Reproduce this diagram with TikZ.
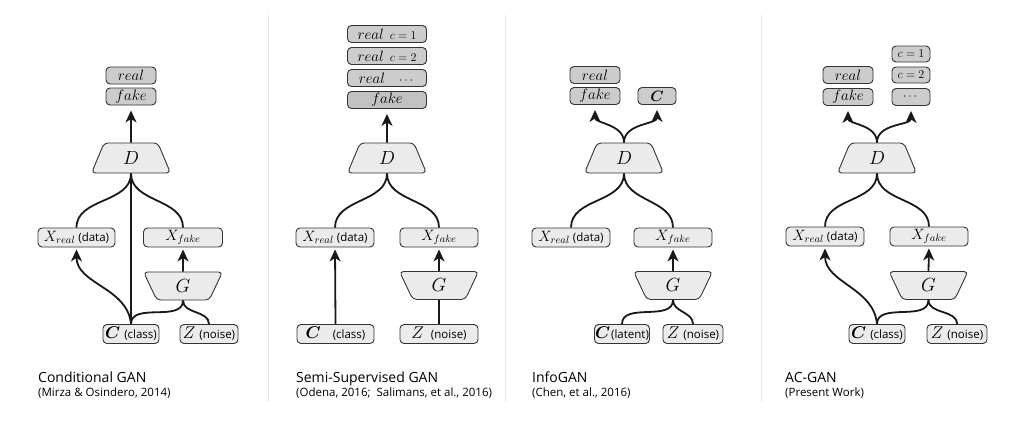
\RequirePackage{fix-cm}
\documentclass[tikz,border=0pt]{standalone}
\usepackage{amsmath}
\usepackage{fontspec}
\setsansfont{Open Sans}
\usetikzlibrary{arrows.meta,shapes.geometric}
\newcommand{\smallsf}[1]{{\sffamily\fontsize{11.5}{13}\selectfont #1}}
\tikzset{
	blk/.style={draw=black!80, fill=black!8, rounded corners=4pt, line width=0.9pt, inner sep=0pt, minimum height=19pt, font=\fontsize{15}{17}\selectfont},
	outblk/.style={blk, fill=black!20, minimum height=17pt},
	inblk/.style={blk, font=\fontsize{17}{19}\selectfont},
	net/.style={trapezium, trapezium stretches=true, draw=black!80, fill=black!8, rounded corners=4pt, line width=0.9pt, inner sep=0pt, minimum width=79pt, minimum height=30pt, font=\fontsize{19}{21}\selectfont},
	dnet/.style={net, trapezium left angle=74, trapezium right angle=74},
	gnet/.style={net, trapezium left angle=106, trapezium right angle=106, minimum height=28pt},
	wire/.style={line width=1.8pt, draw=black!90},
	feed/.style={wire, -{Stealth[length=12pt,width=11pt,inset=3.5pt,fill=black!90]}, shorten >=2pt},
	readout/.style={feed, shorten >=5pt},
	divider/.style={draw=black!10, line width=1pt},
	title/.style={anchor=base west, inner sep=0pt, font=\sffamily\fontsize{14}{16}\selectfont},
	cite/.style={anchor=base west, inner sep=0pt, font=\sffamily\fontsize{11.5}{13}\selectfont},
}

\begin{document}
\begin{tikzpicture}[x=1pt, y=-1pt]
	\useasboundingbox (0,0) rectangle (1024,423);
	
	%%%%% DIVIDERS %%%%%
	\draw[divider] (268.5,15) -- (268.5,402);
	\draw[divider] (505.5,15) -- (505.5,402);
	\draw[divider] (761,15) -- (761,402);
	
	%%%%% CONDITIONAL GAN %%%%%
	\node[outblk, minimum width=50pt] (real1) at (131,75.5) {$real$};
	\node[outblk, minimum width=50pt] (fake1) at (131,96.5) {$fake$};
	\node[dnet] (D1) at (131,158) {$D$};
	\node[blk, minimum width=77pt] (Xr1) at (76.5,237.5) {$X_{real}$\hspace{3pt}\smallsf{(data)}};
	\node[blk, minimum width=79pt] (Xf1) at (183,237.5) {$X_{fake}$};
	\node[gnet] (G1) at (183,286) {$G$};
	\node[inblk, minimum width=56pt] (C1) at (131,334) {$\boldsymbol{C}$\hspace{4pt}\smallsf{(class)}};
	\node[inblk, minimum width=58pt] (Z1) at (209,334) {$Z$\hspace{4pt}\smallsf{(noise)}};
	
	\draw[readout] (D1.north) -- (fake1.south);
	\draw[wire] (D1.south) to[out=-90,in=90] (Xr1.north);
	\draw[wire] (D1.south) -- (C1.north);
	\draw[wire] (D1.south) to[out=-90,in=90] (Xf1.north);
	\draw[feed] (C1.north) to[out=95,in=-90] (Xr1.south);
	\draw[wire] (C1.north) to[out=90,in=-90] (G1.south);
	\draw[wire] (Z1.north) to[out=90,in=-90] (G1.south);
	\draw[feed] (G1.north) -- (Xf1.south);
	
	\node[title] (t1) at (38,382) {Conditional GAN};
	\node[cite] (s1) at (38,396) {(Mirza \& Osindero, 2014)};
	
	%%%%% SEMI-SUPERVISED GAN %%%%%
	\node[outblk, minimum width=79pt] (realA2) at (387,34) {$real$\hspace{6pt}{\fontsize{12}{13}\selectfont$c=1$}};
	\node[outblk, minimum width=79pt] (realB2) at (387,56) {$real$\hspace{6pt}{\fontsize{12}{13}\selectfont$c=2$}};
	\node[outblk, minimum width=79pt] (realC2) at (387,78) {$real$\hspace{14pt}{\fontsize{12}{13}\selectfont$\cdots$}\hspace{6pt}};
	\node[outblk, minimum width=79pt, fill=black!24] (fake2) at (387,100) {$fake$};
	\node[dnet] (D2) at (387,158) {$D$};
	\node[blk, minimum width=78pt] (Xr2) at (335,237.5) {$X_{real}$\hspace{3pt}\smallsf{(data)}};
	\node[blk, minimum width=78pt] (Xf2) at (439,237.5) {$X_{fake}$};
	\node[gnet] (G2) at (439,285.5) {$G$};
	\node[inblk, minimum width=77pt] (C2) at (335.5,334) {$\boldsymbol{C}$\hspace{12pt}\smallsf{(class)}};
	\node[inblk, minimum width=78pt] (Z2) at (439,334) {$Z$\hspace{7pt}\smallsf{(noise)}};
	
	\draw[readout] (D2.north) -- (fake2.south);
	\draw[wire] (D2.south) to[out=-90,in=90] (Xr2.north);
	\draw[wire] (D2.south) to[out=-90,in=90] (Xf2.north);
	\draw[feed] (C2.north) -- (Xr2.south);
	\draw[wire] (Z2.north) -- (G2.south);
	\draw[feed] (G2.north) -- (Xf2.south);
	
	\node[title] (t2) at (296,382) {Semi-Supervised GAN};
	\node[cite] (s2) at (296,396) {(Odena, 2016;\ \ Salimans, et al., 2016)};
	
	%%%%% INFOGAN %%%%%
	\node[outblk, minimum width=50pt] (real3) at (595,75) {$real$};
	\node[outblk, minimum width=50pt] (fake3) at (595,96) {$fake$};
	\node[outblk, minimum width=38pt] (Cout3) at (657,96) {$\boldsymbol{C}$};
	\node[dnet] (D3) at (624,158) {$D$};
	\node[blk, minimum width=78pt] (Xr3) at (571,237.5) {$X_{real}$\hspace{3pt}\smallsf{(data)}};
	\node[blk, minimum width=78pt] (Xf3) at (673,237.5) {$X_{fake}$};
	\node[gnet] (G3) at (673,285.5) {$G$};
	\node[inblk, minimum width=55pt] (C3) at (622,334) {$\boldsymbol{C}$\hspace{1pt}\smallsf{(latent)}};
	\node[inblk, minimum width=60pt] (Z3) at (693,334) {$Z$\hspace{4pt}\smallsf{(noise)}};
	
	\draw[readout] (D3.north) to[out=90,in=-90] (fake3.south);
	\draw[readout] (D3.north) to[out=90,in=-90] (Cout3.south);
	\draw[wire] (D3.south) to[out=-90,in=90] (Xr3.north);
	\draw[wire] (D3.south) to[out=-90,in=90] (Xf3.north);
	\draw[wire] (C3.north) to[out=90,in=-90] (G3.south);
	\draw[wire] (Z3.north) to[out=90,in=-90] (G3.south);
	\draw[feed] (G3.north) -- (Xf3.south);
	
	\node[title] (t3) at (532,382) {InfoGAN};
	\node[cite] (s3) at (532,396) {(Chen, et al., 2016)};
	
	%%%%% AC-GAN %%%%%
	\node[outblk, minimum width=38pt, minimum height=16pt] (cA4) at (911,54) {\fontsize{12}{13}\selectfont$c=1$};
	\node[outblk, minimum width=38pt, minimum height=16pt] (cB4) at (911,75) {\fontsize{12}{13}\selectfont$c=2$};
	\node[outblk, minimum width=38pt] (dots4) at (911,97) {\fontsize{12}{13}\selectfont$\cdots$};
	\node[outblk, minimum width=50pt] (real4) at (848,75) {$real$};
	\node[outblk, minimum width=50pt] (fake4) at (848,97) {$fake$};
	\node[dnet] (D4) at (877,158) {$D$};
	\node[blk, minimum width=78pt] (Xr4) at (825,236.5) {$X_{real}$\hspace{3pt}\smallsf{(data)}};
	\node[blk, minimum width=78pt] (Xf4) at (929,236.5) {$X_{fake}$};
	\node[gnet] (G4) at (928.5,285.5) {$G$};
	\node[inblk, minimum width=56pt] (C4) at (877,334) {$\boldsymbol{C}$\hspace{4pt}\smallsf{(class)}};
	\node[inblk, minimum width=60pt] (Z4) at (957,334) {$Z$\hspace{4pt}\smallsf{(noise)}};
	
	\draw[readout] (D4.north) to[out=90,in=-90] (fake4.south);
	\draw[readout] (D4.north) to[out=90,in=-90] (dots4.south);
	\draw[wire] (D4.south) to[out=-90,in=90] (Xr4.north);
	\draw[wire] (D4.south) to[out=-90,in=90] (Xf4.north);
	\draw[feed] (C4.north) to[out=95,in=-90] (Xr4.south);
	\draw[wire] (C4.north) to[out=90,in=-90] (G4.south);
	\draw[wire] (Z4.north) to[out=90,in=-90] (G4.south);
	\draw[feed] (G4.north) -- (Xf4.south);
	
	\node[title] (t4) at (785,382) {AC-GAN};
	\node[cite] (s4) at (785,396) {(Present Work)};
\end{tikzpicture}
\end{document}
